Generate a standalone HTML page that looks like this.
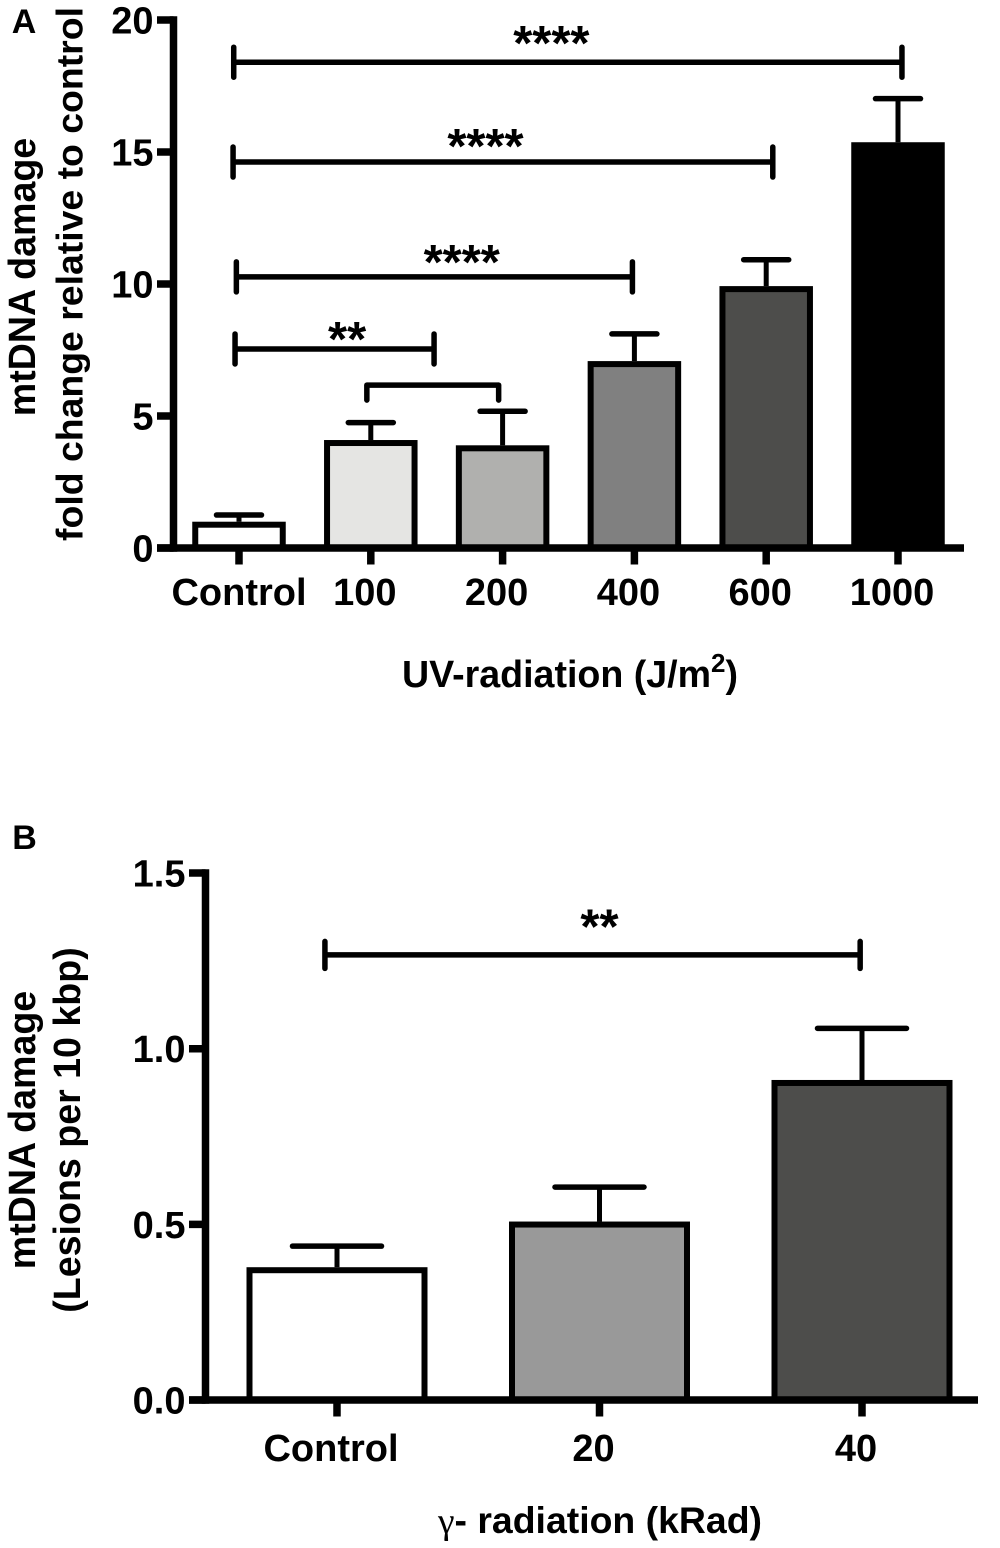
<!DOCTYPE html>
<html lang="en">
<head>
<meta charset="utf-8">
<title>mtDNA damage charts</title>
<style>
html,body{margin:0;padding:0;background:#fff;}
svg{display:block;}
text{font-family:"Liberation Sans",sans-serif;font-weight:bold;fill:#000;}
</style>
</head>
<body>
<svg id="figure" xmlns="http://www.w3.org/2000/svg" width="1000" height="1548" viewBox="0 0 1000 1548"></svg>
<script>
var categoriesA = ['Control', '100', '200', '400', '600', '1000'];
var valuesA = [0.996, 4.09, 3.89, 7.08, 9.92, 15.37];
var errorTopsA = [1.25, 4.75, 5.18, 8.11, 10.92, 17.02];
var fillsA = ['#ffffff', '#e5e5e3', '#b0b0ae', '#808080', '#4d4d4b', '#000000'];
var tickLabelsA = ['0', '5', '10', '15', '20'];
var tickValuesA = [0, 5, 10, 15, 20];
var bracketFromA = [-0.04, -0.045, -0.02, -0.03, 0.97];
var bracketToA = [5.03, 4.05, 2.985, 1.48, 1.97];
var bracketLevelA = [18.4, 14.62, 10.27, 7.54, 6.17];
var starLabelsA = ['****', '****', '****', '**', ''];
var starCatA = [2.37, 1.87, 1.69, 0.82, 0];
var starLevelA = [19.36, 15.45, 11.06, 8.14, 0];

var categoriesB = ['Control', '20', '40'];
var valuesB = [0.378, 0.508, 0.911];
var errorTopsB = [0.438, 0.606, 1.058];
var fillsB = ['#ffffff', '#999999', '#4d4d4b'];
var tickLabelsB = ['0.0', '0.5', '1.0', '1.5'];
var tickValuesB = [0, 0.5, 1, 1.5];
var bracketFromB = [-0.046];
var bracketToB = [1.993];
var bracketLevelB = [1.267];
var starLabelsB = ['**'];
var starCatB = [1.0];
var starLevelB = [1.365];

var NS = 'http://www.w3.org/2000/svg';
var svg = document.getElementById('figure');

function mk(tag, parent, attrs) {
  var el = document.createElementNS(NS, tag);
  for (var k in attrs) { el.setAttribute(k, attrs[k]); }
  parent.appendChild(el);
  return el;
}
function seg(parent, x1, y1, x2, y2, w, cap) {
  return mk('line', parent, {x1: x1, y1: y1, x2: x2, y2: y2, stroke: '#000', 'stroke-width': w, 'stroke-linecap': cap || 'butt'});
}
function txt(parent, s, x, y, size, anchor, extra) {
  var t = mk('text', parent, {x: x, y: y, 'font-size': size, 'text-anchor': anchor || 'middle'});
  if (extra) { t.setAttribute('transform', extra); }
  t.textContent = s;
  return t;
}

function drawPanel(cfg) {
  var X = function (c) { return cfg.x0 + c * cfg.step; };
  var Y = function (v) { return cfg.y0 - v * cfg.scale; };
  var g = mk('g', svg, {});
  
  

  cfg.categories.forEach(function (cat, i) {
    var cx = X(i);
    var err = seg(g, cx, Y(cfg.values[i]), cx, Y(cfg.errors[i]), 5);
    
    
    var capLine = seg(g, cx - cfg.capW / 2 + 2.5, Y(cfg.errors[i]), cx + cfg.capW / 2 - 2.5, Y(cfg.errors[i]), 5.5, 'round');
    
    
    var top = Y(cfg.values[i]);
    var bar = mk('rect', g, {x: cx - cfg.barW / 2 + 3, y: top + 3, width: cfg.barW - 6, height: cfg.y0 - top - 3, fill: cfg.fills[i], stroke: '#000', 'stroke-width': 6});
    
    
    var tick = seg(g, cx, cfg.y0, cx, cfg.y0 + 16.5, 7.5);
    
    
    var lab = txt(g, cat, cx + (i === 0 ? cfg.dxFirst : cfg.dxRest), cfg.xLabelY, cfg.font);
    
    
  });

  var yAxis = seg(g, cfg.axisX, Y(cfg.ticks[cfg.ticks.length - 1]) - 3.75, cfg.axisX, cfg.y0 + 3.75, 7.5);
  
  
  var xAxis = seg(g, cfg.axisX - 16.5, cfg.y0, cfg.axisEnd, cfg.y0, 7.5);
  
  

  cfg.ticks.forEach(function (v, i) {
    var yt = seg(g, cfg.axisX - 16.5, Y(v), cfg.axisX, Y(v), 7.5);
    
    
    var yl = txt(g, cfg.tickLabels[i], cfg.axisX - 20, Y(v) + 13.5, cfg.font, 'end');
    
    
  });

  cfg.bFrom.forEach(function (from, i) {
    var x1 = X(from), x2 = X(cfg.bTo[i]), yb = Y(cfg.bLevel[i]);
    var downOnly = cfg.stars[i] === '';
    var h = seg(g, x1, yb, x2, yb, 5.5);
    
    
    var e1 = seg(g, x1, downOnly ? yb : yb - cfg.bEnd, x1, yb + (downOnly ? 15 : cfg.bEnd), 5.5, 'round');
    
    
    var e2 = seg(g, x2, downOnly ? yb : yb - cfg.bEnd, x2, yb + (downOnly ? 15 : cfg.bEnd), 5.5, 'round');
    
    
    if (cfg.stars[i]) {
      var s = txt(g, cfg.stars[i], X(cfg.starCat[i]), Y(cfg.starLevel[i]) + 23, 49);
      
      
    }
  });
}

drawPanel({
  name: 'panel-a-chart', x0: 239, step: 131.8, y0: 548, scale: 26.4, barW: 93.5, capW: 50,
  axisX: 173.5, axisEnd: 964, font: 38, xLabelY: 605, dxFirst: 0, dxRest: -6,
  categories: categoriesA, values: valuesA, errors: errorTopsA, fills: fillsA,
  ticks: tickValuesA, tickLabels: tickLabelsA,
  bFrom: bracketFromA, bTo: bracketToA, bLevel: bracketLevelA, bEnd: 15,
  stars: starLabelsA, starCat: starCatA, starLevel: starLevelA
});
drawPanel({
  name: 'panel-b-chart', x0: 337, step: 262.5, y0: 1400, scale: 351.3, barW: 181, capW: 94,
  axisX: 205.5, axisEnd: 978, font: 38, xLabelY: 1461, dxFirst: -6, dxRest: -6,
  categories: categoriesB, values: valuesB, errors: errorTopsB, fills: fillsB,
  ticks: tickValuesB, tickLabels: tickLabelsB,
  bFrom: bracketFromB, bTo: bracketToB, bLevel: bracketLevelB, bEnd: 13.5,
  stars: starLabelsB, starCat: starCatB, starLevel: starLevelB
});

var panelA = txt(svg, 'A', 24, 33, 34);


var panelB = txt(svg, 'B', 24.5, 849, 34);



var titleA1 = txt(svg, 'mtDNA damage', 0, 0, 37.6, 'middle', 'translate(35 277) rotate(-90)');


var titleA2 = txt(svg, 'fold change relative to control', 0, 0, 37.4, 'middle', 'translate(82.5 274) rotate(-90)');


var titleB1 = txt(svg, 'mtDNA damage', 0, 0, 37.6, 'middle', 'translate(35 1130) rotate(-90)');


var titleB2 = txt(svg, '(Lesions per 10 kbp)', 0, 0, 37.6, 'middle', 'translate(80 1130) rotate(-90)');



var xTitleA = txt(svg, 'UV-radiation (J/m', 402, 687, 37.6, 'start');


var sup = mk('tspan', xTitleA, {'font-size': 26, dy: -15});
sup.textContent = '2';
var supEnd = mk('tspan', xTitleA, {dy: 15});
supEnd.textContent = ')';

var xTitleB = txt(svg, '', 438, 1533, 37.4, 'start');


var gamma = mk('tspan', xTitleB, {style: 'font-family:"Liberation Serif",serif;font-weight:normal'});
gamma.textContent = 'γ';
var rest = mk('tspan', xTitleB, {});
rest.textContent = '- radiation (kRad)';
</script>
</body>
</html>
